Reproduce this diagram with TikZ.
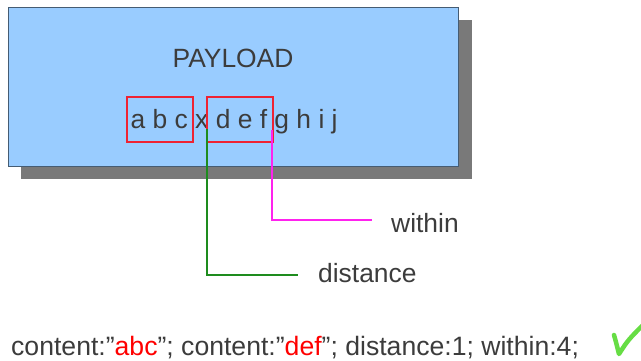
\documentclass[tikz,border=0pt]{standalone}
\usepackage{fontspec}
\setmainfont{Liberation Sans}
\begin{document}
\begin{tikzpicture}[x=1pt,y=-1pt,
  txt/.style={inner sep=0pt,text=textgray,font=\fontsize{26.4}{30}\selectfont},
  redbox/.style={draw=boxred,line width=1.5pt,inner sep=0pt},
  lead/.style={line width=2pt}]
\definecolor{textgray}{HTML}{3C3C3C}
\definecolor{payblue}{HTML}{99CCFF}
\definecolor{boxred}{HTML}{EE2233}
\definecolor{lgreen}{HTML}{1E8C1E}
\definecolor{lmag}{HTML}{FF22EE}
\definecolor{checkgreen}{HTML}{66DD44}
\useasboundingbox (0,0) rectangle (641,360);
% shadow and box
\fill[gray!95!black] (21,20) rectangle (472,179);
\node[draw=black!55!payblue,line width=0.8pt,fill=payblue,inner sep=0pt,minimum width=450pt,minimum height=159pt,anchor=north west] (payload) at (8,7) {};
\node[txt,anchor=base] (ptitle) at (233,67) {PAYLOAD};
\node[txt,anchor=base west] (row) at (130.5,128) {a b c x d e f g h i j};
\node[redbox,minimum width=66pt,minimum height=45pt,anchor=north west] (abc) at (126,96) {};
\node[redbox,minimum width=66pt,minimum height=45pt,anchor=north west] (def) at (206,96) {};
% leaders
\coordinate (gs) at (207.3,129);
\coordinate (ge) at (298,275);
\coordinate (ms) at (272.3,130);
\coordinate (me) at (372,220);
\node[txt,anchor=base west] (within) at (391,232) {within};
\node[txt,anchor=base west] (distance) at (318,282) {distance};
\draw[lead,lgreen] (gs) |- (ge);
\draw[lead,lmag] (ms) |- (me);
% bottom rule text
\node[txt,anchor=base west,font=\fontsize{26.6}{30}\selectfont] (rule) at (11,355) {content:”\textcolor{red}{abc}”; content:”\textcolor{red}{def}”; distance:1; within:4;};
\coordinate (ck1) at (614,335);
\coordinate (ck2) at (619,354);
\coordinate (ck3) at (646,322);
\draw[checkgreen,line width=4.5pt,line cap=round,line join=round] (ck1) .. controls (616,342) .. (ck2) .. controls (628,340) .. (ck3);
\end{tikzpicture}
\end{document}
